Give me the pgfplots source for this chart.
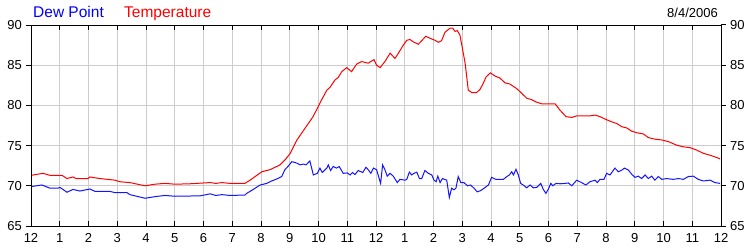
\documentclass[border=0pt]{standalone}
\usepackage{fontspec}
\setmainfont{Liberation Sans}
\usepackage{pgfplots}
\pgfplotsset{compat=1.18}
\definecolor{gridgray}{RGB}{204,204,204}
\definecolor{tempred}{RGB}{255,0,0}
\definecolor{dewblue}{RGB}{20,20,255}
\begin{document}
\begin{tikzpicture}
\pgfplotsset{
  common/.style={
    at={(0,0)}, anchor=south west,
    scale only axis, width=690bp, height=201bp,
    xmin=0, xmax=24, ymin=65, ymax=90,
    ytick={65,70,75,80,85,90},
    /pgf/number format/assume math mode=true,
    tick label style={font=\fontsize{13bp}{15bp}\selectfont, black},
    major tick length=5bp,
    tick style={black, line width=1bp},
    axis line style={black, line width=1bp},
  }
}
\begin{axis}[common,
  xtick={0,1,...,24},
  xticklabels={12,1,2,3,4,5,6,7,8,9,10,11,12,1,2,3,4,5,6,7,8,9,10,11,12},
  xtick align=inside, xtick pos=both, xticklabel pos=bottom,
  ytick align=outside, ytick pos=left,
  xticklabel style={inner sep=0pt, yshift=-7.5bp},
  yticklabel style={inner sep=0pt, xshift=-4bp},
  grid=major, major grid style={draw=gridgray, line width=1bp},
]
\addplot[tempred, line width=1bp] coordinates {
(0,71.3) (0.42,71.55) (0.66,71.3) (1.08,71.3) (1.25,70.9) (1.46,71.1) (1.57,70.9)
(1.98,70.9) (2.05,71.1) (2.40,70.9) (2.92,70.7) (3.10,70.5) (3.44,70.4) (3.97,70.0)
(4.31,70.2) (4.66,70.3) (5.01,70.2) (5.53,70.25) (6.23,70.4) (6.43,70.3) (6.64,70.4)
(6.92,70.3) (7.44,70.3) (7.62,70.7) (8.03,71.75) (8.31,72.0) (8.66,72.6) (8.83,73.2)
(9.01,74.0) (9.25,75.7) (9.53,77.15) (9.81,78.6) (9.99,79.85) (10.11,80.7) (10.29,81.9)
(10.40,82.25) (10.57,83.15) (10.69,83.5) (10.81,84.2) (10.98,84.7) (11.15,84.2)
(11.33,85.15) (11.50,85.45) (11.73,85.25) (11.93,85.7) (12.02,85.0) (12.14,84.7)
(12.31,85.45) (12.49,86.5) (12.66,85.85) (12.78,86.5) (12.95,87.5) (13.07,88.1)
(13.18,88.2) (13.30,87.9) (13.47,87.6) (13.59,88.05) (13.73,88.6) (13.88,88.35)
(14.05,88.1) (14.17,87.85) (14.28,88.05) (14.40,89.1) (14.57,89.6) (14.67,89.6)
(14.75,89.2) (14.83,89.3) (14.92,88.75) (15.10,85.25) (15.21,81.9) (15.33,81.6)
(15.50,81.6) (15.62,82.0) (15.73,82.75) (15.83,83.55) (15.98,84.05) (16.14,83.65)
(16.31,83.4) (16.49,82.8) (16.66,82.65) (16.89,82.1) (17.07,81.5) (17.24,80.9)
(17.42,80.7) (17.59,80.4) (17.76,80.2) (18.23,80.2) (18.40,79.4) (18.61,78.6)
(18.81,78.5) (18.98,78.7) (19.44,78.7) (19.62,78.8) (19.79,78.6) (19.97,78.3)
(20.20,77.95) (20.37,77.75) (20.55,77.35) (20.72,77.2) (20.89,76.8) (21.07,76.6)
(21.30,76.45) (21.47,76.0) (21.70,75.8) (21.94,75.7) (22.17,75.5) (22.46,75.05)
(22.69,74.85) (22.92,74.75) (23.15,74.45) (23.38,74.05) (23.62,73.8) (23.79,73.6)
(23.97,73.35)
};
\addplot[dewblue, line width=1bp] coordinates {
(0,69.9) (0.38,70.1) (0.66,69.7) (0.94,69.7) (1.01,69.8) (1.25,69.2) (1.46,69.55)
(1.70,69.35) (2.05,69.6) (2.23,69.3) (2.75,69.3) (2.92,69.15) (3.34,69.15) (3.44,68.9)
(3.97,68.45) (4.31,68.65) (4.66,68.8) (5.01,68.7) (5.88,68.75) (6.23,69.0) (6.43,68.8)
(6.64,68.9) (6.92,68.8) (7.44,68.85) (7.50,69.05) (7.73,69.55) (7.97,70.1) (8.20,70.3)
(8.37,70.6) (8.55,70.85) (8.72,71.15) (8.83,72.0) (8.95,72.45) (9.07,73.0) (9.18,72.9)
(9.26,72.8) (9.36,72.6) (9.47,72.7) (9.57,72.6) (9.70,73.1) (9.82,71.35) (9.96,71.55)
(10.05,72.2) (10.13,71.65) (10.29,72.2) (10.34,72.6) (10.42,71.9) (10.51,72.4)
(10.63,72.2) (10.72,72.4) (10.86,71.55) (11.00,71.6) (11.10,71.35) (11.18,71.65)
(11.27,71.4) (11.38,71.9) (11.54,71.65) (11.65,72.3) (11.73,72.0) (11.82,71.55)
(11.91,72.2) (12.02,72.0) (12.16,70.3) (12.23,72.6) (12.31,72.0) (12.39,71.2)
(12.49,71.55) (12.60,71.2) (12.74,70.4) (12.83,70.8) (13.01,70.7) (13.07,70.8)
(13.16,71.7) (13.24,71.35) (13.32,71.55) (13.42,71.7) (13.51,70.9) (13.59,70.9)
(13.70,71.9) (13.82,71.55) (13.94,71.35) (14.02,70.7) (14.09,70.5) (14.15,71.2)
(14.23,70.4) (14.31,70.9) (14.46,70.7) (14.55,68.55) (14.63,69.7) (14.71,69.5)
(14.78,69.7) (14.86,71.15) (14.95,70.4) (15.06,70.4) (15.18,70.0) (15.29,70.1)
(15.41,69.7) (15.52,69.25) (15.64,69.4) (15.76,69.7) (15.91,70.1) (16.02,71.05)
(16.17,70.8) (16.43,70.8) (16.55,71.15) (16.64,71.35) (16.72,71.75) (16.78,71.35)
(16.87,72.05) (16.95,71.35) (17.03,70.3) (17.12,70.1) (17.24,69.75) (17.36,70.1)
(17.47,69.75) (17.59,69.8) (17.73,70.3) (17.82,69.55) (17.91,69.05) (17.99,69.55)
(18.08,70.3) (18.15,70.0) (18.26,70.3) (18.40,70.25) (18.57,70.3) (18.69,70.35)
(18.81,70.0) (18.98,70.7) (19.15,70.4) (19.30,70.1) (19.44,70.5) (19.62,70.7)
(19.70,70.4) (19.79,70.8) (19.93,70.8) (20.02,71.55) (20.14,71.35) (20.31,72.2)
(20.43,71.75) (20.55,71.95) (20.64,72.2) (20.78,71.95) (20.89,71.45) (21.01,71.05)
(21.12,71.2) (21.24,70.9) (21.36,71.35) (21.47,70.9) (21.59,71.2) (21.70,70.7)
(21.82,71.15) (21.94,70.8) (22.11,70.9) (22.34,70.8) (22.52,70.9) (22.69,70.8)
(22.86,71.15) (23.04,71.2) (23.21,70.8) (23.38,70.6) (23.62,70.7) (23.79,70.4)
(23.97,70.3)
};
\end{axis}
\begin{axis}[common,
  hide x axis,
  ytick pos=right, yticklabel pos=right, ytick align=outside,
  yticklabel style={inner sep=0pt, xshift=4bp},
]
\addplot[draw=none] coordinates {(0,65)};
\end{axis}
\node[anchor=base west, inner sep=0pt, text=blue, font=\fontsize{15.5bp}{18bp}\selectfont] at (2bp,208.7bp) {Dew Point};
\node[anchor=base west, inner sep=0pt, text=red, font=\fontsize{15.5bp}{18bp}\selectfont] at (93bp,208.7bp) {Temperature};
\node[anchor=base east, inner sep=0pt, text=black, font=\fontsize{13bp}{15bp}\selectfont] at (687bp,208.7bp) {8/4/2006};
\pgfresetboundingbox
\path (-31bp,-24bp) rectangle (719bp,226bp);
\end{tikzpicture}
\end{document}
